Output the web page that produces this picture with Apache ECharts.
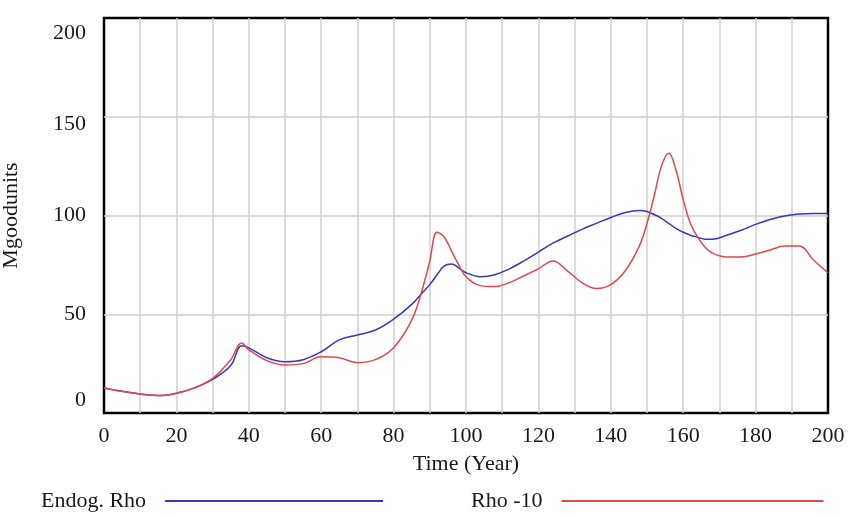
<!DOCTYPE html>
<html>
<head>
<meta charset="utf-8">
<script src="https://cdn.jsdelivr.net/npm/echarts@6/dist/echarts.min.js"></script>
<style>html,body{margin:0;padding:0;background:#fff;}#c{width:848px;height:517px;}</style>
</head>
<body>
<div id="c"></div>
<script>
var times = [0,5,10,15,20,25,30,35,38,40,45,50,55,60,65,70,75,80,85,88,90,92,94,96,98,100,104,108,112,116,120,124,128,132,136,140,144,148,150,152,154,156,158,160,162,164,166,168,172,176,180,184,188,192,196,200];
var endogRho = [12.7,11,9.6,8.8,10,12.7,17,24,34,33,28,26,27,31,37,39.5,42,47.5,55,61,65,70,74.5,75.5,73.5,71,69,70,73,77,81.5,86,89.5,93,96,99,101.5,102.5,102,100.5,98.5,96,93.5,91.5,90,89,88,88,90,92.5,95.5,98,99.8,100.8,101,101];
var rhoMinus10 = [12.7,11,9.6,8.8,10,12.7,17.5,27,35.5,32,26.5,24.3,25,28.5,28,25.5,27,33,47,63,77,91.5,89,82,75,69,64.5,64,66,69.5,73,77,72,66,63,65,72,85,96,110,125,131.5,123,108,96,89,84,81,79,79,80.5,82.5,84.5,84.5,77.5,71];
var yTicks = [0,50,100,150,200];
var xTicks = [0,20,40,60,80,100,120,140,160,180,200];
var seriesNames = ['Endog. Rho','Rho -10'];

function pairs(a){ return times.map(function(t,i){ return [t,a[i]]; }); }
var font = 'Liberation Serif';
var fs = 22;
var txt = '#1a1a1a';
var chart = echarts.init(document.getElementById('c'));
chart.setOption({
  animation:false,
  backgroundColor:'#fff',
  grid:{left:104,right:20,top:18,bottom:104,show:true,borderColor:'#000',borderWidth:2.5,backgroundColor:'transparent',outerBoundsMode:'none',containLabel:false},
  xAxis:{type:'value',min:0,max:200,interval:10,
    name:'Time (Year)',nameLocation:'middle',nameGap:40,
    nameTextStyle:{fontFamily:font,fontSize:fs,color:txt},
    axisLine:{show:false},axisTick:{show:false},
    axisLabel:{fontFamily:font,fontSize:fs,color:txt,margin:12,
      formatter:function(v){ return xTicks.indexOf(v)>=0 ? String(v) : ''; }},
    splitLine:{show:true,showMinLine:false,showMaxLine:false,lineStyle:{color:'#d0d0d0',width:1.5}}},
  yAxis:{type:'value',min:0,max:200,interval:50,
    name:'Mgoodunits',nameLocation:'middle',nameGap:82,
    nameTextStyle:{fontFamily:font,fontSize:fs,color:txt},
    axisLine:{show:false},axisTick:{show:false},
    axisLabel:{fontFamily:font,fontSize:fs,color:txt,margin:18,
      formatter:function(v){
        if(v===200) return '{a|200}';
        if(v===150) return '{b|150}';
        if(v===0) return '{c|0}';
        return String(v);
      },
      rich:{a:{fontFamily:font,fontSize:fs,color:txt,padding:[30,0,0,0]},
            b:{fontFamily:font,fontSize:fs,color:txt,padding:[14,0,0,0]},
            c:{fontFamily:font,fontSize:fs,color:txt,padding:[0,0,26,0]}}},
    splitLine:{show:true,showMinLine:false,showMaxLine:false,lineStyle:{color:'#d0d0d0',width:1.5}}},
  legend:[
    {data:[seriesNames[0]],left:36,top:485,align:'right',itemWidth:218,itemHeight:2,icon:'rect',
     textStyle:{fontFamily:font,fontSize:fs,color:txt,padding:[0,14,0,0]}},
    {data:[seriesNames[1]],left:466,top:485,align:'right',itemWidth:262,itemHeight:2,icon:'rect',
     textStyle:{fontFamily:font,fontSize:fs,color:txt,padding:[0,14,0,0]}}
  ],
  series:[
    {name:seriesNames[0],type:'line',data:pairs(endogRho),smooth:0.4,showSymbol:false,
     lineStyle:{color:'#3636c0',width:1.5},itemStyle:{color:'#3636c0'}},
    {name:seriesNames[1],type:'line',data:pairs(rhoMinus10),smooth:0.4,showSymbol:false,
     lineStyle:{color:'#e0484c',width:1.5},itemStyle:{color:'#e0484c'}}
  ]
});
</script>
</body>
</html>
